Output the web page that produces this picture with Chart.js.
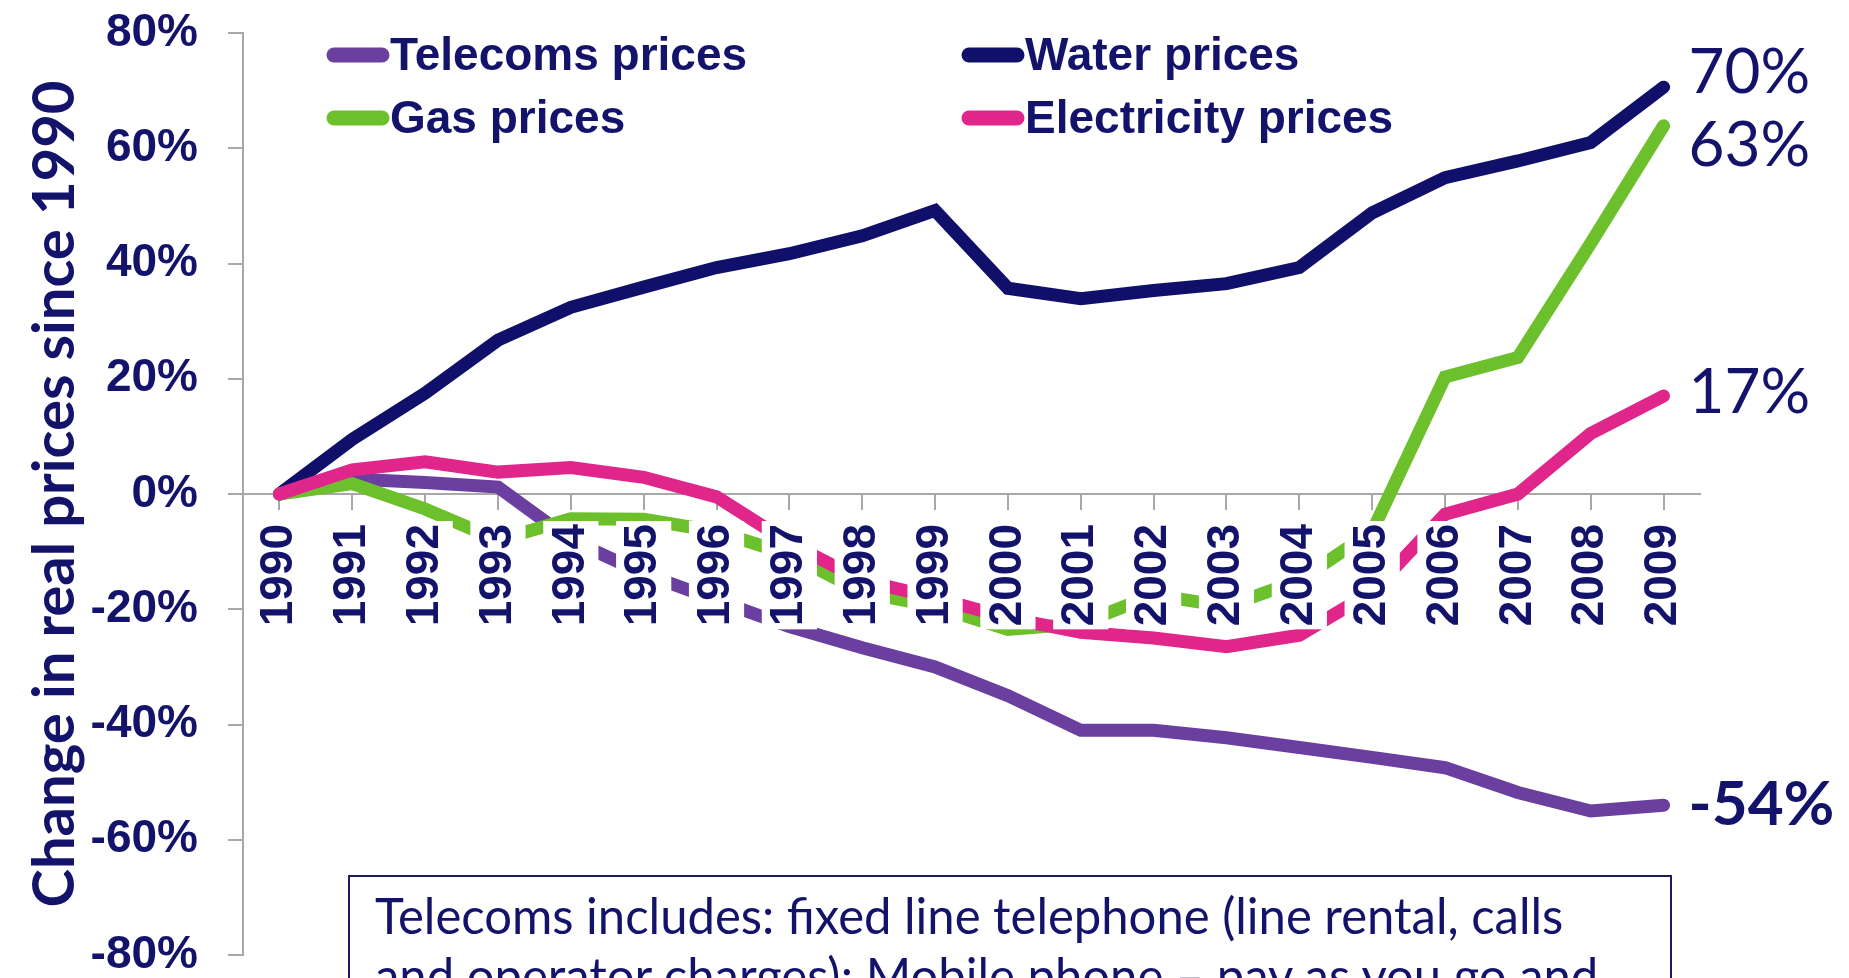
<!DOCTYPE html>
<html>
<head>
<meta charset="utf-8">
<script src="https://cdn.jsdelivr.net/npm/chart.js@4/dist/chart.umd.min.js"></script>
<style>
  html, body { margin: 0; padding: 0; background: #fff; overflow: hidden; }
  #wrap { position: relative; width: 1849px; height: 978px; }
  #note {
    position: absolute; left: 348px; top: 875px; width: 1324px; height: 200px;
    box-sizing: border-box; border: 2px solid #1b1b5e; background: #fff;
  }
  #note p {
    margin: 0; position: absolute; left: 25px; top: 8px;
    font-family: Lato, sans-serif; font-size: 50px; line-height: 60px; color: #13136b;
    white-space: nowrap; transform-origin: 0 0; transform: scaleX(0.98);
  }
</style>
</head>
<body>
<div id="wrap">
  <canvas id="chart" width="1849" height="978"></canvas>
  <div id="note"><p>Telecoms includes: fixed line telephone (line rental, calls<br>and operator charges); Mobile phone – pay as you go and</p></div>
</div>
<script>
// datos (% de cambio real desde 1990)
const years = ["1990", "1991", "1992", "1993", "1994", "1995", "1996", "1997", "1998", "1999",
               "2000", "2001", "2002", "2003", "2004", "2005", "2006", "2007", "2008", "2009"];
const telecoms = [0, 2.6, 2.0, 1.2, -8, -13.8, -18.4, -23, -26.7, -30,
                  -35, -41, -41, -42.3, -44, -45.7, -47.5, -51.8, -55, -54];
const water = [0, 9.5, 17.5, 26.7, 32.4, 35.9, 39.3, 41.7, 44.8, 49.2,
               35.7, 33.9, 35.3, 36.5, 39.3, 48.8, 54.9, 57.8, 61, 70.6];
const gas = [0, 1.8, -2.6, -8, -4.3, -4.4, -6.5, -10.5, -17, -19.5,
             -23.5, -22.5, -17.5, -19.5, -15, -6.5, 20.3, 23.7, 43.5, 63.9];
const electricity = [0, 4.2, 5.6, 3.8, 4.6, 2.9, -0.5, -8.5, -15, -18,
                     -21.5, -24, -25, -26.5, -24.5, -17, -3.5, 0, 10.5, 17];
const seriesNames = ["Telecoms prices", "Water prices", "Gas prices", "Electricity prices"];
const endLabels = ["-54%", "70%", "63%", "17%"];
const yTicks = [-80, -60, -40, -20, 0, 20, 40, 60, 80];

const NAVY = "#13136b";
const colors = ["#6b3fa0", "#10106a", "#6cc02b", "#e0268a"];

// leyenda en dos columnas dentro del area del grafico
const cornerLegend = {
    id: "cornerLegend",
    afterDraw(chart, args, opts) {
        const ctx = chart.ctx;
        ctx.save();
        ctx.font = opts.font;
        ctx.fillStyle = opts.color;
        ctx.textBaseline = "alphabetic";
        opts.items.forEach(item => {
            const ds = chart.data.datasets[item.dataset];
            ctx.strokeStyle = ds.borderColor;
            ctx.lineWidth = 15;
            ctx.lineCap = "round";
            ctx.beginPath();
            ctx.moveTo(item.x + 8, item.y);
            ctx.lineTo(item.x + 56, item.y);
            ctx.stroke();
            ctx.fillText(ds.label, item.x + 64, item.y + 15);
        });
        ctx.restore();
    }
};

// etiquetas de valor al final de cada serie
const endValueLabels = {
    id: "endValueLabels",
    afterDraw(chart, args, opts) {
        const ctx = chart.ctx;
        ctx.save();
        ctx.fillStyle = opts.color;
        ctx.textBaseline = "middle";
        chart.data.datasets.forEach((ds, i) => {
            const meta = chart.getDatasetMeta(i);
            const pt = meta.data[meta.data.length - 1];
            ctx.font = (opts.bold[i] ? "bold " : "") + opts.size + "px Lato, sans-serif";
            ctx.fillText(endLabels[i], pt.x + 25, pt.y + opts.dy[i]);
        });
        ctx.restore();
    }
};

const makeSet = (label, data, color, order) => ({
    label,
    data,
    borderColor: color,
    backgroundColor: color,
    borderWidth: 13,
    borderCapStyle: "round",
    pointRadius: 0,
    tension: 0,
    order
});

new Chart(document.getElementById("chart"), {
    type: "line",
    data: {
        labels: years,
        datasets: [
            makeSet(seriesNames[0], telecoms, colors[0], 4),
            makeSet(seriesNames[1], water, colors[1], 3),
            makeSet(seriesNames[2], gas, colors[2], 2),
            makeSet(seriesNames[3], electricity, colors[3], 1)
        ]
    },
    options: {
        responsive: false,
        animation: false,
        layout: { padding: { top: 33, bottom: 23, left: 0, right: 149 } },
        plugins: {
            legend: { display: false },
            tooltip: { enabled: false },
            cornerLegend: {
                font: "bold 46px 'Liberation Sans', Arial, sans-serif",
                color: NAVY,
                items: [
                    { dataset: 0, x: 326, y: 55 },
                    { dataset: 1, x: 961, y: 55 },
                    { dataset: 2, x: 326, y: 118 },
                    { dataset: 3, x: 961, y: 118 }
                ]
            },
            endValueLabels: {
                color: NAVY,
                size: 62,
                bold: [true, false, false, false],
                dy: [0, -14, 20, -3]
            }
        },
        scales: {
            x: {
                position: { y: 0 },
                offset: true,
                grid: { drawOnChartArea: false, drawTicks: true, tickLength: 15, color: "#a8a8a8", lineWidth: 2 },
                border: { display: true, color: "#a8a8a8", width: 2 },
                ticks: {
                    z: 1,
                    autoSkip: false,
                    maxRotation: 90,
                    minRotation: 90,
                    padding: 15,
                    labelOffset: -27.6,
                    color: NAVY,
                    font: { family: "'Liberation Sans', Arial, sans-serif", size: 46, weight: "bold" },
                    showLabelBackdrop: true,
                    backdropColor: "#ffffff",
                    backdropPadding: { top: 0, bottom: 0, left: 3, right: 3 }
                }
            },
            y: {
                min: -80,
                max: 80,
                afterBuildTicks(scale) {
                    scale.ticks = yTicks.map(v => ({ value: v }));
                },
                afterFit(scale) {
                    scale.width = 243;
                    scale.paddingTop = 0;
                    scale.paddingBottom = 0;
                },
                grid: { drawOnChartArea: false, drawTicks: true, tickLength: 15, color: "#a8a8a8", lineWidth: 2 },
                border: { display: true, color: "#a8a8a8", width: 2 },
                ticks: {
                    padding: 30,
                    color: NAVY,
                    font: { family: "'Liberation Sans', Arial, sans-serif", size: 46, weight: "bold", lineHeight: 1 },
                    callback: v => v + "%"
                },
                title: {
                    display: true,
                    text: "Change in real prices since 1990",
                    color: NAVY,
                    font: { family: "Lato, sans-serif", size: 58, weight: "bold" },
                    padding: { top: 20, bottom: 0 }
                }
            }
        }
    },
    plugins: [cornerLegend, endValueLabels]
});
</script>
</body>
</html>
